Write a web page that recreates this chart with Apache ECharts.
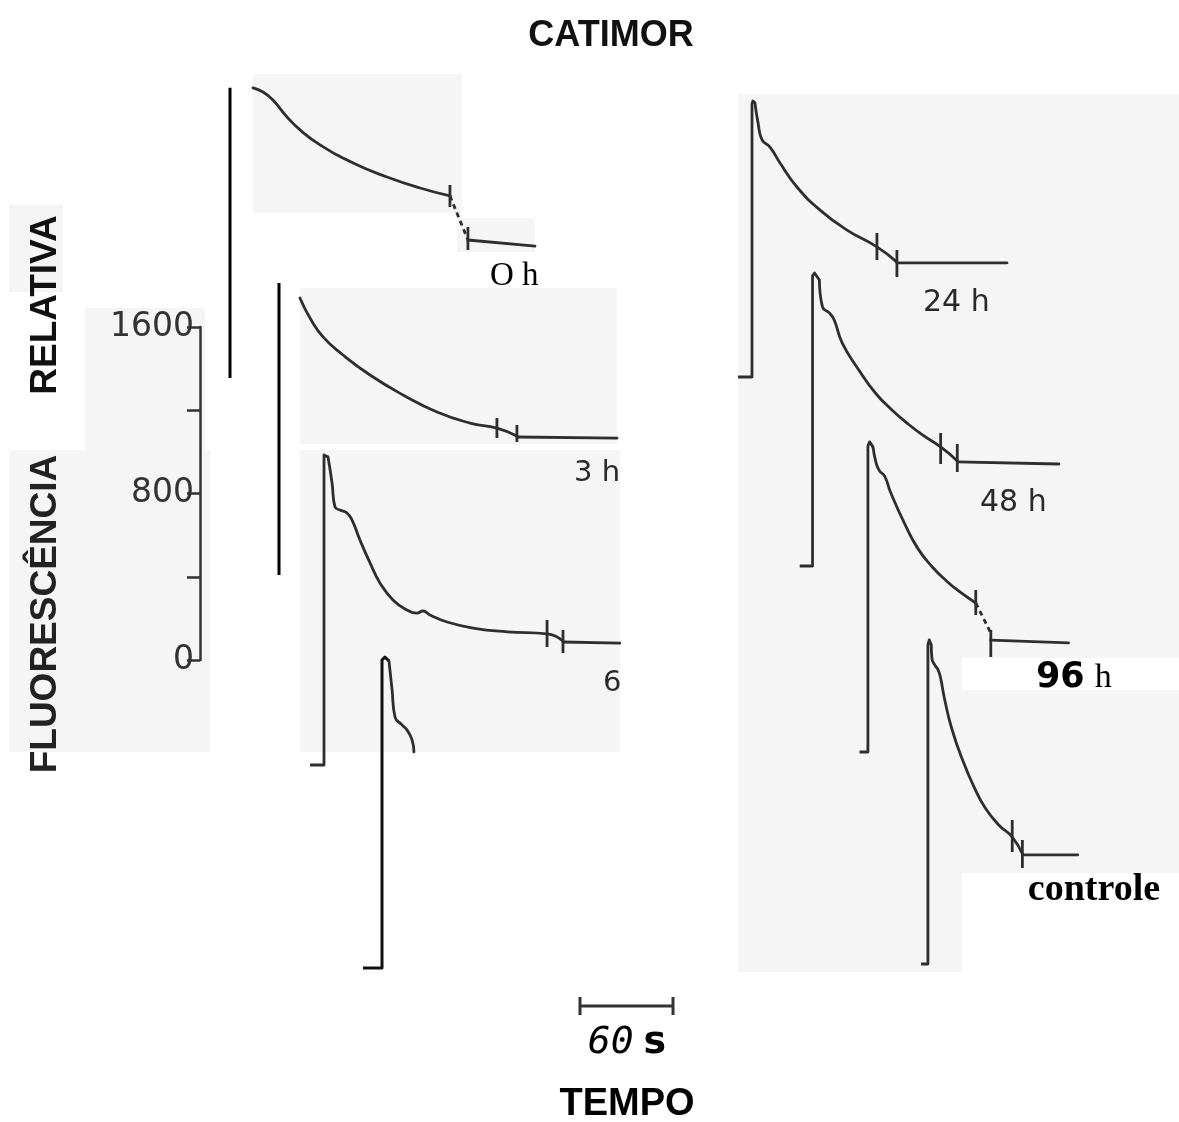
<!DOCTYPE html>
<html><head><meta charset="utf-8">
<script src="https://cdn.jsdelivr.net/npm/echarts@6/dist/echarts.min.js"></script>
<style>html,body{margin:0;padding:0;background:#fff}#c{width:1179px;height:1122px}</style>
</head><body><div id="c"></div>
<script>
// ---------- DATA (time in s after light on, fluorescence in relative units) ----------
const yTicks = [0, 400, 800, 1200, 1600];
const yTickLabels = ['0', '', '800', '', '1600'];
const timeBar = [0, 60];
const curveNames = ['0 h', '3 h', '6 h', '12 h', '24 h', '48 h', '96 h', 'controle'];

const h0Rise = [[0,0],[0,1394]];
const h0Decay = [[14.8,1394],[21.3,1374],[27.7,1336],[36.8,1254],[45.2,1192],[58.1,1120],[79.4,1033],[101.3,966],[122.6,913],[141.9,875]];
const h0Dash = [[141.9,875],[153.5,663]];
const h0Tail = [[153.5,663],[196.8,634]];
const h0Breaks = [[141.9,822,927],[153.5,615,726]];

const h3Rise = [[0,0],[0,1403]];
const h3Decay = [[13.5,1331],[20.0,1235],[28.4,1144],[41.3,1057],[58.7,961],[80.0,865],[101.9,783],[123.2,730],[140.6,706],[153.5,668]];
const h3Tail = [[153.5,663],[218.1,658]];
const h3Breaks = [[140.6,658,754],[153.5,639,721]];

const h6Rise = [[-9.0,0],[0,0],[0,1490],[0.6,1499],[2.6,1480]];
const h6Decay = [[2.6,1480],[5.2,1355],[7.1,1240],[10.3,1225],[14.8,1211],[18.1,1177],[23.2,1081],[29.7,971],[36.1,875],[44.5,793],[53.5,745],[60.0,730],[63.9,740],[68.4,721],[79.4,687],[96.1,658],[118.1,640],[143.9,630],[154.2,596]];
const h6Tail = [[154.2,591],[191.0,586]];
const h6Breaks = [[143.9,567,697],[154.2,538,649]];

const h12Rise = [[-12.3,0],[0,0],[0,1480],[1.9,1494],[4.5,1475]];
const h12Decay = [[4.5,1475],[6.5,1336],[8.4,1206],[12.9,1168],[16.1,1144],[19.4,1096],[20.6,1038]];

const h24Rise = [[-9.0,0],[0,0],[0,1312],[0.6,1326],[1.9,1317]];
const h24Decay = [[1.9,1317],[3.9,1221],[6.5,1139],[11.6,1105],[18.1,1028],[29.0,913],[43.9,802],[61.3,706],[80.6,625],[93.5,552]];
const h24Tail = [[93.5,548],[164.5,548]];
const h24Breaks = [[80.6,562,692],[93.5,481,610]];

const h48Rise = [[-8.4,0],[0,0],[0,1394],[1.3,1408],[4.5,1374]];
const h48Decay = [[4.5,1374],[6.5,1245],[11.0,1216],[14.2,1182],[19.4,1072],[30.3,942],[41.3,830],[52.0,750],[63.0,680],[72.0,630],[83.9,572],[94.8,505]];
const h48Tail = [[94.8,500],[161.3,490]];
const h48Breaks = [[83.9,490,639],[94.8,452,586]];

const h96Rise = [[-6.5,0],[0,0],[0,1470],[1.3,1490],[3.9,1466]];
const h96Decay = [[3.9,1466],[6.5,1384],[9.0,1350],[12.9,1326],[17.4,1249],[28.4,1096],[38.7,976],[49.7,889],[60.6,822],[71.0,769],[83.2,716]];
const h96Dash = [[83.2,716],[94.8,572]];
const h96Tail = [[94.8,538],[154.8,524]];
const h96Breaks = [[83.2,658,778],[94.8,456,586]];

const ctlRise = [[-6.5,0],[0,0],[0,1533],[1.3,1557],[3.2,1533]];
const ctlDecay = [[3.2,1533],[3.9,1466],[6.5,1437],[9.7,1413],[12.3,1370],[15.5,1283],[22.6,1134],[33.5,975],[44.5,846],[54.8,750],[67.7,668],[80.6,610],[90.3,530]];
const ctlTail = [[90.3,524],[143.2,524]];
const ctlBreaks = [[80.6,538,692],[90.3,461,596]];

// ---------- LAYOUT ----------
const PX_PER_S = 93 / 60;        // 60 s bar is 93 px long
const PX_PER_F = 166.5 / 800;    // 800 units span 166.5 px on the scale
const TMIN = -20, TMAX = 240, FMIN = -100, FMAX = 1700;
const curves = [
  {rise:h0Rise, decay:h0Decay, dash:h0Dash, tail:h0Tail, breaks:h0Breaks, ox:230, oy:378, riseColor:'#000', riseW:3},
  {rise:h3Rise, decay:h3Decay, tail:h3Tail, breaks:h3Breaks, ox:279, oy:575, riseColor:'#000', riseW:3},
  {rise:h6Rise, decay:h6Decay, tail:h6Tail, breaks:h6Breaks, ox:324, oy:765},
  {rise:h12Rise, decay:h12Decay, ox:382, oy:968, riseColor:'#111', riseW:3},
  {rise:h24Rise, decay:h24Decay, tail:h24Tail, breaks:h24Breaks, ox:752, oy:377},
  {rise:h48Rise, decay:h48Decay, tail:h48Tail, breaks:h48Breaks, ox:813, oy:566},
  {rise:h96Rise, decay:h96Decay, dash:h96Dash, tail:h96Tail, breaks:h96Breaks, ox:873, oy:752},
  {rise:ctlRise, decay:ctlDecay, tail:ctlTail, breaks:ctlBreaks, ox:938, oy:964}
];
const LINE = '#2e2e2e';
const LW = 2.8;

const grids = [], xAxes = [], yAxes = [], series = [];
function seg(i, data, opts) {
  series.push(Object.assign({
    type:'line', xAxisIndex:i, yAxisIndex:i, data:data, showSymbol:false, symbol:'none',
    clip:false, silent:true, animation:false, z:5,
    lineStyle:{color:LINE, width:LW, cap:'round', join:'round'}
  }, opts || {}));
}
curves.forEach((c, i) => {
  grids.push({left:c.ox + TMIN*PX_PER_S, top:c.oy - FMAX*PX_PER_F,
    width:(TMAX-TMIN)*PX_PER_S, height:(FMAX-FMIN)*PX_PER_F, containLabel:false});
  xAxes.push({type:'value', gridIndex:i, min:TMIN, max:TMAX, show:false});
  yAxes.push({type:'value', gridIndex:i, min:FMIN, max:FMAX, show:false});
  seg(i, c.rise, {name:curveNames[i], lineStyle:{color:c.riseColor||LINE, width:c.riseW||LW, join:'round'}});
  seg(i, c.decay, {name:curveNames[i], smooth:0.5});
  if (c.dash) seg(i, c.dash, {lineStyle:{color:LINE, width:LW, type:[5,4]}});
  if (c.tail) seg(i, c.tail);
  (c.breaks||[]).forEach(b => seg(i, [[b[0],b[1]],[b[0],b[2]]], {lineStyle:{color:LINE, width:LW}}));
});

// fluorescence scale
const ai = grids.length;
grids.push({left:200, top:660 - 1600*PX_PER_F, width:10, height:1600*PX_PER_F});
xAxes.push({type:'value', gridIndex:ai, min:0, max:1, show:false});
yAxes.push({type:'value', gridIndex:ai, min:yTicks[0], max:yTicks[yTicks.length-1], interval:400,
  position:'left',
  axisLine:{show:true, onZero:false, lineStyle:{color:'#333', width:2.5}},
  axisTick:{show:true, inside:false, length:13, lineStyle:{color:'#333', width:2.5}},
  axisLabel:{show:true, margin:6, color:'#333', fontSize:33, fontFamily:'DejaVu Sans',
    formatter:v => { const k = yTicks.indexOf(v); return k >= 0 ? yTickLabels[k] : ''; }},
  splitLine:{show:false}});

// 60 s time bar
const bi = grids.length;
grids.push({left:580, top:997, width:timeBar[1]*PX_PER_S, height:18});
xAxes.push({type:'value', gridIndex:bi, min:timeBar[0], max:timeBar[1], show:false});
yAxes.push({type:'value', gridIndex:bi, min:-1, max:1, show:false});
seg(bi, [[timeBar[0],0],[timeBar[1],0]], {lineStyle:{color:'#333', width:3}});
seg(bi, [[timeBar[0],-1],[timeBar[0],1]], {lineStyle:{color:'#333', width:3}});
seg(bi, [[timeBar[1],-1],[timeBar[1],1]], {lineStyle:{color:'#333', width:3}});

// ---------- GRAPHIC (paper patches + labels) ----------
const PAPER = '#f5f5f5';
const patches = [
  [253,74,209,139],[457,218,78,34],[9,205,54,87],[85,308,120,142],[9,450,201,302],
  [300,288,317,156],[300,450,320,302],[738,94,441,564],[738,658,224,314],[962,690,217,183]
];
const gfx = patches.map(p => ({type:'rect', z:-10, silent:true,
  shape:{x:p[0], y:p[1], width:p[2], height:p[3]}, style:{fill:PAPER}}));

function txt(text, x, y, font, opts) {
  return Object.assign({type:'text', x:x, y:y, z:100, silent:true,
    style:Object.assign({text:text, fill:'#222', align:'left', verticalAlign:'middle'}, font)}, opts||{});
}
const SANS = 'Liberation Sans, Arial, sans-serif';
const GEO = 'DejaVu Sans, sans-serif';
const SERIF = 'Liberation Serif, Times New Roman, serif';
gfx.push(txt('CATIMOR', 611, 36, {fontSize:36, fontWeight:'bold', fontFamily:SANS, align:'center', fill:'#111'}));
gfx.push(txt('RELATIVA', 46, 305, {fontSize:37, fontFamily:SANS, fontWeight:'bold', align:'center', fill:'#111'}, {rotation:Math.PI/2}));
gfx.push(txt('FLUORESCÊNCIA', 46, 614, {fontSize:37, fontFamily:SANS, fontWeight:'bold', align:'center', fill:'#222'}, {rotation:Math.PI/2}));
gfx.push(txt('O h', 490, 276, {fontSize:33, fontFamily:SERIF, fill:'#000'}));
gfx.push(txt('3 h', 574, 473, {fontSize:29, fontFamily:GEO, fill:'#2a2a2a'}));
gfx.push(txt('6 h', 603, 683, {fontSize:29, fontFamily:GEO, fill:'#2a2a2a'}));
gfx.push(txt('24 h', 923, 303, {fontSize:30, fontFamily:GEO, fill:'#2a2a2a'}));
gfx.push(txt('48 h', 980, 503, {fontSize:30, fontFamily:GEO, fill:'#2a2a2a'}));
gfx.push(txt('{a|96}{b|h}', 1036, 678, {rich:{a:{fontSize:35, fontWeight:'bold', fontFamily:GEO, fill:'#000', padding:[0,10,0,0]}, b:{fontSize:34, fontFamily:SERIF, fill:'#000'}}}));
gfx.push(txt('controle', 1094, 890, {fontSize:38, fontWeight:'bold', fontFamily:SERIF, align:'center', fill:'#000'}));
gfx.push(txt('{a|60}{b|s}', 627, 1043, {align:'center', rich:{a:{fontSize:38, fontStyle:'italic', fontFamily:'DejaVu Sans Mono, monospace', fill:'#000', padding:[0,10,0,0]}, b:{fontSize:38, fontWeight:'bold', fontFamily:GEO, fill:'#000'}}}));
gfx.push(txt('TEMPO', 627, 1105, {fontSize:38, fontWeight:'bold', fontFamily:SANS, align:'center', fill:'#000'}));
// right edge of the cut-out panels (clips the 3 h / 6 h labels)
gfx.push({type:'rect', z:101, silent:true, shape:{x:621, y:455, width:40, height:250}, style:{fill:'#fff'}});

const chart = echarts.init(document.getElementById('c'), null, {renderer:'canvas'});
chart.setOption({
  backgroundColor:'#fff', animation:false,
  grid:grids, xAxis:xAxes, yAxis:yAxes, series:series,
  graphic:{elements:gfx}
});
</script></body></html>
